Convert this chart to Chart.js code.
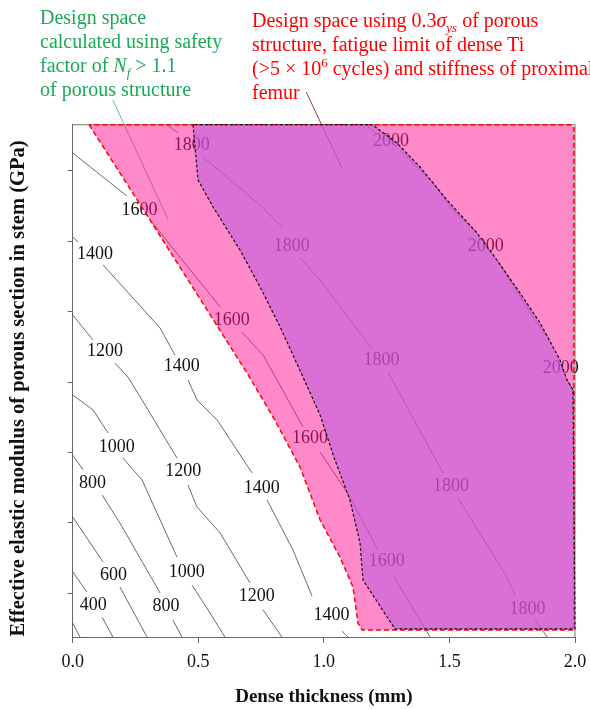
<!DOCTYPE html>
<html>
<head>
<meta charset="utf-8">
<script src="https://cdn.jsdelivr.net/npm/chart.js@4.4.0/dist/chart.umd.min.js"></script>
<style>
  html, body { margin: 0; padding: 0; background: #fff; overflow: hidden; }
  #wrap { position: relative; width: 590px; height: 709px; }
  canvas { position: absolute; left: 0; top: 0; }
  .note { position: absolute; font-family: 'Liberation Serif', serif; font-size: 20px; line-height: 24px; white-space: nowrap; }
  .note sub, .note sup { line-height: 0; font-size: 13px; }
  #green { left: 40px; top: 5px; color: #1ba857; }
  #red { left: 252px; top: 8px; color: #ff0000; }
</style>
</head>
<body>
<div id="wrap">
  <canvas id="chart" width="590" height="709"></canvas>
  <div class="note" id="green">Design space<br>calculated using safety<br>factor of <i>N<sub>f</sub></i> &gt; 1.1<br>of porous structure</div>
  <div class="note" id="red">Design space using 0.3<i>σ<sub>ys</sub></i> of porous<br>structure, fatigue limit of dense Ti<br>(&gt;5 × 10<sup>6</sup> cycles) and stiffness of proximal<br>femur</div>
</div>
<script>
// axis ranges (y has ticks only, no labels)
const xMin = 0, xMax = 2;
const xTicks = [0, 0.5, 1.0, 1.5, 2.0];
const yMin = 0.379, yMax = 7.656;
const yTicks = [1, 2, 3, 4, 5, 6, 7];

// contour lines, split into segments where the labels sit
const c200 = [[[0, 0.578], [0.029, 0.379]]];
const c400 = [[[0, 1.303], [0.057, 1.018]], [[0.117, 0.663], [0.160, 0.379]]];
const c600 = [[[0, 2.084], [0.121, 1.445]], [[0.188, 1.089], [0.296, 0.379]]];
const c800 = [[[0, 2.964], [0.041, 2.756]], [[0.117, 2.396], [0.188, 1.999], [0.348, 1.004]], [[0.399, 0.621], [0.435, 0.379]]];
const c1000 = [[[0, 3.817], [0.081, 3.604], [0.141, 3.277]], [[0.200, 2.922], [0.276, 2.609], [0.415, 1.516]], [[0.475, 1.118], [0.539, 0.763], [0.606, 0.379]]];
const c1200 = [[[0, 4.953], [0.081, 4.598]], [[0.168, 4.271], [0.220, 4.072], [0.276, 3.746], [0.415, 2.922]], [[0.459, 2.538], [0.495, 2.226], [0.587, 1.857], [0.706, 1.146]], [[0.758, 0.763], [0.833, 0.379]]];
const c1400 = [[[0, 6.061], [0.021, 5.99]], [[0.121, 5.663], [0.348, 4.768], [0.407, 4.385]], [[0.459, 4.03], [0.495, 3.746], [0.575, 3.462], [0.714, 2.709]], [[0.774, 2.325], [0.877, 1.615], [0.953, 0.962]], [[1.072, 0.464], [1.096, 0.379]]];
const c1600 = [[[0, 7.254], [0.216, 6.643]], [[0.308, 6.303], [0.587, 5.067]], [[0.673, 4.712], [0.758, 4.385], [0.798, 4.13], [0.917, 3.362]], [[0.985, 3.007], [1.104, 2.368], [1.216, 1.615]], [[1.275, 1.26], [1.423, 0.379]]];
const c1800 = [[[0.374, 7.656], [0.419, 7.538]], [[0.519, 7.197], [0.746, 6.516], [0.833, 6.203]], [[0.905, 5.763], [0.985, 5.45], [1.192, 4.47]], [[1.255, 4.143], [1.474, 2.709]], [[1.534, 2.354], [1.729, 1.232], [1.761, 0.976]], [[1.841, 0.621], [1.889, 0.379]]];
const c2000 = [[[1.168, 7.656], [1.2, 7.553]], [[1.304, 7.297], [1.435, 6.828], [1.514, 6.445], [1.610, 6.118]], [[1.689, 5.734], [1.833, 4.925], [1.889, 4.64]], [[1.968, 4.03], [1.992, 3.889], [2.0, 3.817]]];
const contours = [c200, c400, c600, c800, c1000, c1200, c1400, c1600, c1800, c2000];

// contour labels: text, x, y
const contourLabels = [
  ['400', 0.082, 0.834], ['600', 0.162, 1.26], ['800', 0.079, 2.562], ['800', 0.371, 0.81],
  ['1000', 0.175, 3.074], ['1000', 0.454, 1.293],
  ['1200', 0.129, 4.432], ['1200', 0.440, 2.727], ['1200', 0.733, 0.952],
  ['1400', 0.089, 5.82], ['1400', 0.434, 4.219], ['1400', 0.753, 2.49], ['1400', 1.03, 0.69],
  ['1600', 0.266, 6.445], ['1600', 0.633, 4.882], ['1600', 0.945, 3.2], ['1600', 1.250, 1.449],
  ['1800', 0.474, 7.367], ['1800', 0.872, 5.923], ['1800', 1.230, 4.314], ['1800', 1.506, 2.514], ['1800', 1.811, 0.773],
  ['2000', 1.267, 7.415], ['2000', 1.645, 5.923], ['2000', 1.943, 4.196]
];

// design space regions (closed outlines)
const pinkRegion = [[0.065, 7.656], [0.308, 6.303], [0.694, 4.129], [0.798, 3.504], [0.905, 2.794], [0.985, 2.041],
  [1.064, 1.516], [1.116, 1.089], [1.136, 0.578], [1.152, 0.479], [1.996, 0.479], [1.996, 7.61], [1.984, 7.656], [0.065, 7.656]];
const purpleRegion = [[0.479, 7.656], [0.487, 7.339], [0.499, 6.87], [0.559, 6.487], [0.666, 5.876], [0.746, 5.351],
  [0.826, 4.783], [0.917, 4.072], [0.985, 3.533], [1.044, 2.894], [1.104, 2.325], [1.144, 1.715], [1.156, 1.189],
  [1.283, 0.493], [2.0, 0.493], [1.992, 3.889], [1.968, 4.031], [1.940, 4.315], [1.861, 4.84], [1.781, 5.266],
  [1.689, 5.734], [1.610, 6.118], [1.490, 6.587], [1.383, 7.055], [1.291, 7.396], [1.192, 7.656], [0.479, 7.656]];

// leader lines from the notes
const greenLeader = [[0.160, 8.007], [0.379, 6.315]];
const redLeader = [[0.930, 8.12], [1.072, 7.04]];

const toPts = arr => arr.map(([x, y]) => ({ x, y }));

const datasets = [];
contours.forEach(segs => segs.forEach(seg => datasets.push({
  data: toPts(seg), borderColor: '#444', borderWidth: 0.8, pointRadius: 0, fill: false, order: 10
})));
datasets.push({ data: toPts(greenLeader), borderColor: '#3caf6e', borderWidth: 0.8, pointRadius: 0, fill: false, clip: false, order: 10 });
datasets.push({ data: toPts(redLeader), borderColor: '#7a2a2a', borderWidth: 0.9, pointRadius: 0, fill: false, clip: false, order: 10 });
datasets.push({
  data: toPts(pinkRegion), fill: 'shape', backgroundColor: 'rgba(255,20,147,0.5)',
  borderColor: '#ff0000', borderWidth: 1.5, borderDash: [5, 3], pointRadius: 0, clip: false, order: 2
});
datasets.push({
  data: toPts(purpleRegion), fill: 'shape', backgroundColor: 'rgba(193,95,222,0.6)',
  borderColor: '#111', borderWidth: 1.2, borderDash: [3, 2], pointRadius: 0, clip: false, order: 1
});

// frame on top/right + contour labels, drawn under the shaded regions
const overlayPlugin = {
  id: 'overlay',
  beforeDatasetsDraw(chart) {
    const { ctx, chartArea: a, scales: { x, y } } = chart;
    ctx.save();
    ctx.strokeStyle = '#777';
    ctx.lineWidth = 1;
    ctx.beginPath();
    ctx.moveTo(a.left, a.top);
    ctx.lineTo(a.right, a.top);
    ctx.lineTo(a.right, a.bottom);
    ctx.stroke();
    ctx.font = '18px "Liberation Serif"';
    ctx.fillStyle = '#111';
    ctx.textAlign = 'center';
    ctx.textBaseline = 'middle';
    contourLabels.forEach(([t, vx, vy]) => ctx.fillText(t, x.getPixelForValue(vx), y.getPixelForValue(vy)));
    ctx.restore();
  }
};

Chart.defaults.font.family = '"Liberation Serif", serif';
Chart.defaults.color = '#111';

new Chart(document.getElementById('chart'), {
  type: 'line',
  data: { datasets },
  options: {
    responsive: false,
    animation: false,
    layout: { padding: { top: 124.7, right: 15, bottom: 0, left: 0 } },
    plugins: { legend: { display: false }, tooltip: { enabled: false } },
    scales: {
      x: {
        type: 'linear', min: xMin, max: xMax,
        afterBuildTicks: s => { s.ticks = xTicks.map(v => ({ value: v })); },
        // padding 0 keeps the right edge where it is; the tall line height pushes the labels down
        ticks: { callback: v => Number(v).toFixed(1), padding: 0, font: { size: 18, lineHeight: 2.1 }, autoSkip: false, maxRotation: 0 },
        grid: { drawOnChartArea: false, tickLength: 6, color: '#666' },
        border: { color: '#666' },
        title: { display: true, text: 'Dense thickness (mm)', font: { size: 19, weight: 'bold' }, padding: { top: 0, bottom: 1 } },
        afterFit: s => { s.height = 72; }
      },
      y: {
        type: 'linear', min: yMin, max: yMax,
        afterBuildTicks: s => { s.ticks = yTicks.map(v => ({ value: v })); },
        ticks: { callback: () => '', padding: 0 },
        grid: { drawOnChartArea: false, tickLength: 5, color: '#666' },
        border: { color: '#666' },
        title: { display: true, text: 'Effective elastic modulus of porous section in stem (GPa)\u00a0\u00a0\u00a0', font: { size: 20.5, weight: 'bold' }, padding: { top: 6, bottom: 0 } },
        afterFit: s => { s.width = 72.7; }
      }
    }
  },
  plugins: [overlayPlugin]
});
</script>
</body>
</html>
